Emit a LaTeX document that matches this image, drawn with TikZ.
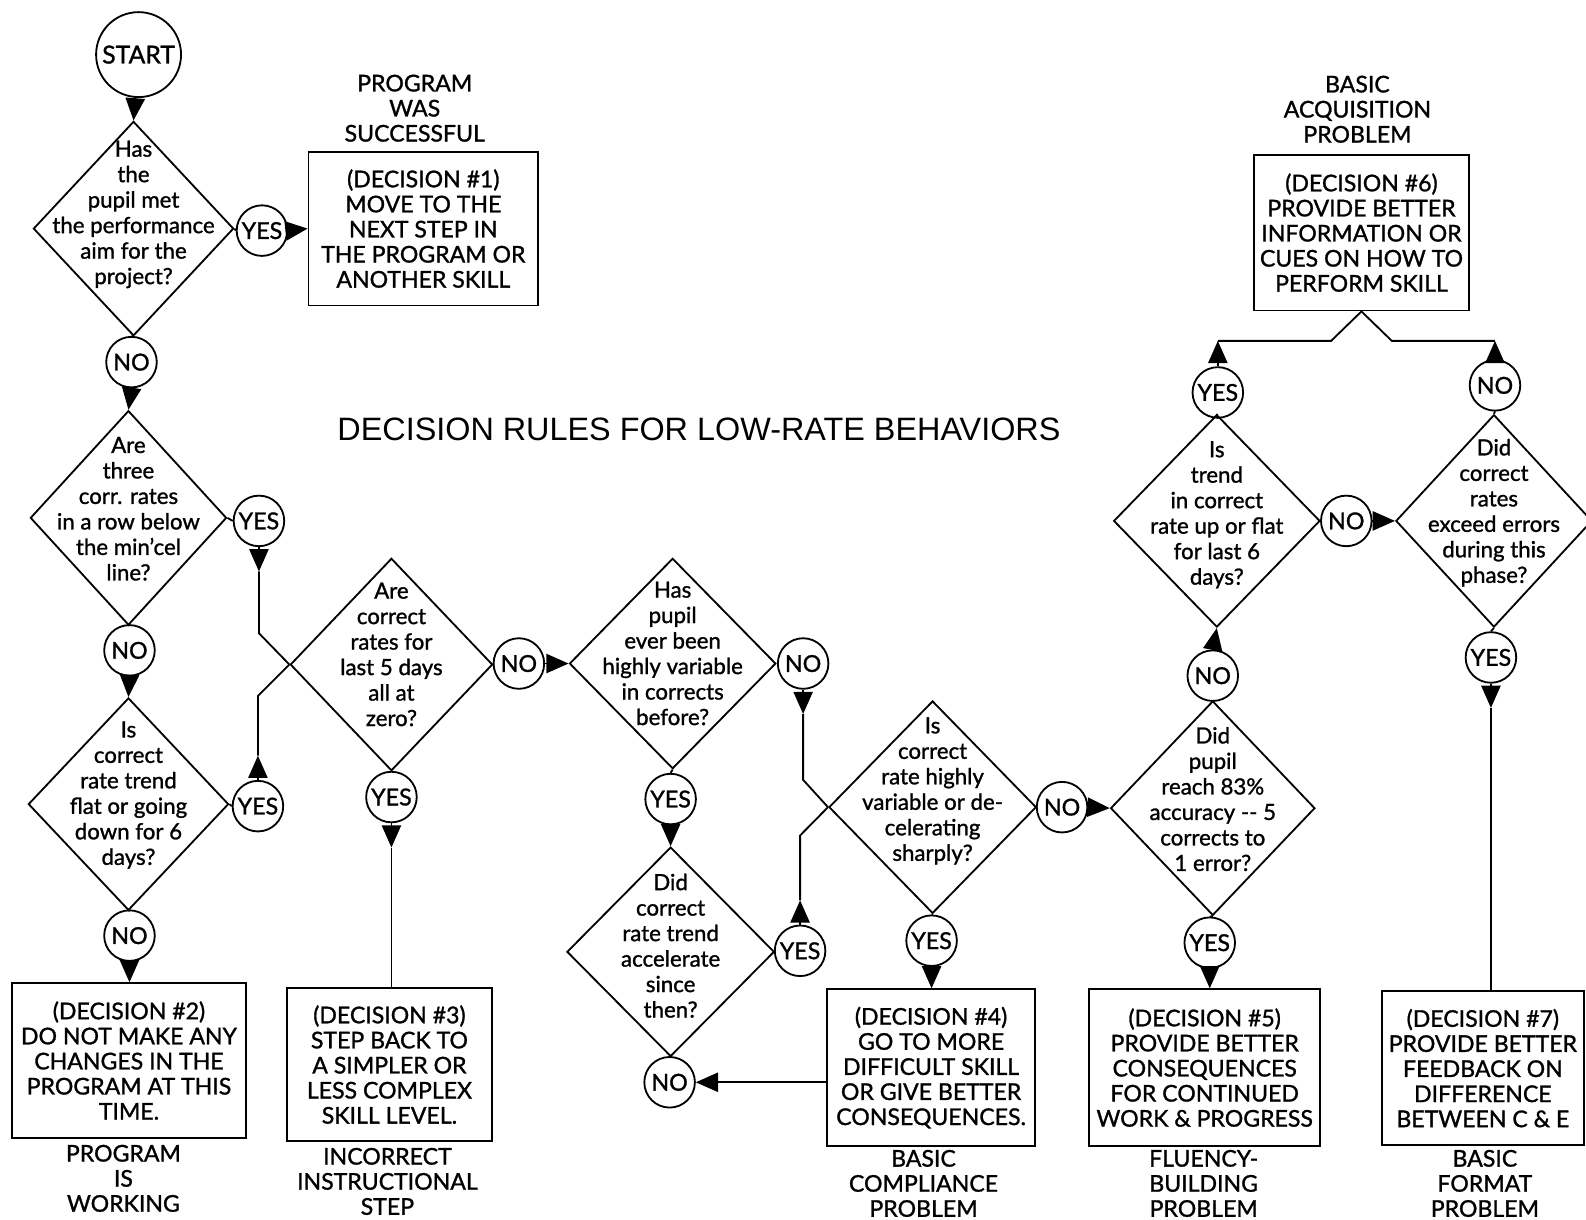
\documentclass[tikz,border=0pt]{standalone}
\usepackage{fontspec}
\setmainfont{Lato}[BoldFont={Lato},BoldFeatures={FakeBold=1.2}]
\newfontfamily\titlefnt{Liberation Sans}
\usetikzlibrary{shapes.geometric,arrows.meta}
\newcommand\boxfnt{\bfseries\fontsize{22.8}{24.8}\selectfont}
\newcommand\diafnt{\bfseries\fontsize{22}{25.2}\selectfont}
\newcommand\circfnt{\bfseries\fontsize{23}{23}\selectfont}
\begin{document}
\begin{tikzpicture}[x=1pt,y=-1pt,line width=1.8pt,
  arr/.style={-{Triangle[length=22pt,width=19pt]}},
  dia/.style 2 args={draw,diamond,inner sep=0pt,minimum width=#1pt,minimum height=#2pt},
  dtext/.style={align=center,font=\diafnt,inner sep=0pt},
  yn/.style={draw,circle,minimum size=50pt,inner sep=0pt,font=\circfnt},
  box/.style 2 args={draw,inner sep=0pt,minimum width=#1pt,minimum height=#2pt,align=center,font=\boxfnt},
  lab/.style={align=center,font=\boxfnt,inner sep=0pt}]
\useasboundingbox (0,0) rectangle (1568,1206);
\fill[white] (0,0) rectangle (1568,1206);

% title
\node[font=\titlefnt\fontsize{32}{36}\selectfont,inner sep=0pt] (title) at (691,424) {DECISION RULES FOR LOW-RATE BEHAVIORS};

% start and decision 1
\node[draw,circle,minimum size=84pt,inner sep=0pt,font=\bfseries\fontsize{24.5}{24.5}\selectfont] (start) at (137,54) {START};
\node[dia={198}{212}] (d1) at (132,226) {};
\node[dtext] (d1t) at (132,212) {Has\\the\\pupil met\\the performance\\aim for the\\project?};
\node[yn] (y1) at (259,228) {YES};
\node[box={227}{152}] (b1) at (418.5,226) {(DECISION \#1)\\MOVE TO THE\\NEXT STEP IN\\THE PROGRAM OR\\ANOTHER SKILL};
\node[lab] (l1) at (410,107) {PROGRAM\\WAS\\SUCCESSFUL};
\node[yn] (n1) at (130,358) {NO};

% decision 2
\node[dia={194}{212}] (d2) at (127,512) {};
\node[dtext] (d2t) at (127,503) {Are\\three\\corr. rates\\in a row below\\the min'cel\\line?};
\node[yn] (y2) at (256,515) {YES};
\node[yn] (n2) at (128,643) {NO};

% decision 4 (left column)
\node[dia={198}{210}] (d4) at (127,795) {};
\node[dtext] (d4t) at (127,786) {Is\\correct\\rate trend\\flat or going\\down for 6\\days?};
\node[yn] (y4) at (255,797) {YES};
\node[yn] (n4) at (128,925) {NO};
\node[box={231}{153}] (b2) at (127.5,1048.5) {(DECISION \#2)\\DO NOT MAKE ANY\\CHANGES IN THE\\PROGRAM AT THIS\\TIME.};
\node[lab] (l2) at (122,1165) {PROGRAM\\IS\\WORKING};

% decision 3
\node[dia={200}{210}] (d3) at (387,657) {};
\node[dtext] (d3t) at (387,647) {Are\\correct\\rates for\\last 5 days\\all at\\zero?};
\node[yn] (n3) at (513,656) {NO};
\node[yn] (y3) at (387,788) {YES};
\node[box={203}{151}] (b3) at (385,1052.5) {(DECISION \#3)\\STEP BACK TO\\A SIMPLER OR\\LESS COMPLEX\\SKILL LEVEL.};
\node[lab] (l3) at (383,1168) {INCORRECT\\INSTRUCTIONAL\\STEP};

% decision 5 and 6
\node[dia={204}{208}] (d5) at (665,656) {};
\node[dtext] (d5t) at (665,646) {Has\\pupil\\ever been\\highly variable\\in corrects\\before?};
\node[yn] (n5) at (794,656) {NO};
\node[yn] (y5) at (663,790) {YES};
\node[dia={205}{207}] (d6) at (663,941) {};
\node[dtext] (d6t) at (663,935) {Did\\correct\\rate trend\\accelerate\\since\\then?};
\node[yn] (y6) at (791,940) {YES};
\node[yn] (n6) at (662,1070) {NO};

% decision 7
\node[dia={205}{210}] (d7) at (922,798) {};
\node[dtext] (d7t) at (922,782) {Is\\correct\\rate highly\\variable or de-\\celerating\\sharply?};
\node[yn] (y7) at (921,930) {YES};
\node[box={205}{155}] (b4) at (920.5,1055.5) {(DECISION \#4)\\GO TO MORE\\DIFFICULT SKILL\\OR GIVE BETTER\\CONSEQUENCES.};
\node[lab] (l4) at (913,1170) {BASIC\\COMPLIANCE\\PROBLEM};
\node[yn] (n7) at (1050,798) {NO};

% decision 8
\node[dia={202}{212}] (d8) at (1199,799) {};
\node[dtext] (d8t) at (1199,790) {Did\\pupil\\reach 83\%\\accuracy -{}- 5\\corrects to\\1 error?};
\node[yn] (y8) at (1196,932) {YES};
\node[box={228}{155}] (b5) at (1191,1055.5) {(DECISION \#5)\\PROVIDE BETTER\\CONSEQUENCES\\FOR CONTINUED\\WORK \& PROGRESS};
\node[lab] (l5) at (1190,1170) {FLUENCY-\\BUILDING\\PROBLEM};
\node[yn] (n8) at (1199,668) {NO};

% decision 9 and 10
\node[dia={204}{210}] (d9) at (1203,515) {};
\node[dtext] (d9t) at (1203,509) {Is\\trend\\in correct\\rate up or flat\\for last 6\\days?};
\node[yn] (n9) at (1331,515) {NO};
\node[yn] (y9) at (1204,388) {YES};
\node[dia={194}{210}] (d10) at (1477,515) {};
\node[dtext] (d10t) at (1477,507) {Did\\correct\\rates\\exceed errors\\during this\\phase?};
\node[yn] (n10) at (1478,381) {NO};
\node[yn] (y10) at (1474,650) {YES};
\node[box={200}{152}] (b7) at (1466,1056) {(DECISION \#7)\\PROVIDE BETTER\\FEEDBACK ON\\DIFFERENCE\\BETWEEN C \& E};
\node[lab] (l7) at (1468,1170) {BASIC\\FORMAT\\PROBLEM};
\node[box={212}{154}] (b6) at (1346,230) {(DECISION \#6)\\PROVIDE BETTER\\INFORMATION OR\\CUES ON HOW TO\\PERFORM SKILL};
\node[lab] (l6) at (1342,108) {BASIC\\ACQUISITION\\PROBLEM};

% bend points
\coordinate (k2) at (256,626);
\coordinate (k4) at (255,688);
\coordinate (k5) at (794,771);
\coordinate (k6) at (791,826);
\coordinate (k9) at (1316,337);
\coordinate (k10) at (1376,337);

% connectors
\draw[arr] (start) -- (d1.north);
\draw (d1.east) -- (y1.west);
\draw[arr] (y1.east) -- (b1.west);
\draw (d1.south) -- (n1.north);
\draw[arr] (n1.south) -- (d2.north);
\draw (d2.east) -- (y2.west);
\draw[arr] (y2.south) -- ++(0,24) coordinate (y2a);
\draw (y2a) -- (k2) -- (d3.west);
\draw (d2.south) -- (n2.north);
\draw[arr] (n2.south) -- (d4.north);
\draw (d4.east) -- (y4.west);
\draw[arr] (y4.north) -- ++(0,-24) coordinate (y4a);
\draw (y4a) -- (k4) -- (d3.west);
\draw (d4.south) -- (n4.north);
\draw[arr] (n4.south) -- (n4.south |- b2.north);

\draw (d3.east) -- (n3.west);
\draw[arr] (n3.east) -- (d5.west);
\draw (d3.south) -- (y3.north);
\draw[arr] (y3.south) -- ++(0,24) coordinate (y3a);
\draw (y3a) -- (y3a |- b3.north);

\draw (d5.east) -- (n5.west);
\draw[arr] (n5.south) -- ++(0,24) coordinate (n5a);
\draw (n5a) -- (k5) -- (d7.west);
\draw (d5.south) -- (y5.north);
\draw[arr] (y5.south) -- (d6.north);
\draw (d6.east) -- (y6.west);
\draw[arr] (y6.north) -- ++(0,-24) coordinate (y6a);
\draw (y6a) -- (k6) -- (d7.west);
\draw (d6.south) -- (n6.north);
\draw[arr] (b4.west |- n6) -- (n6.east);

\draw (d7.south) -- (y7.north);
\draw[arr] (y7.south) -- (y7.south |- b4.north);
\draw (d7.east) -- (n7.west);
\draw[arr] (n7.east) -- (d8.west);

\draw (d8.south) -- (y8.north);
\draw[arr] (y8.south) -- (y8.south |- b5.north);
\draw (d8.north) -- (n8.south);
\draw[arr] (n8.north) -- (d9.south);

\draw (d9.east) -- (n9.west);
\draw[arr] (n9.east) -- (d10.west);
\draw (d9.north) -- (y9.south);
\draw[arr] (y9.north) -- (y9.north |- k9);
\draw (y9.north |- k9) -- (k9) -- (b6.south);
\draw (d10.north) -- (n10.south);
\draw[arr] (n10.north) -- (n10.north |- k10);
\draw (n10.north |- k10) -- (k10) -- (b6.south);
\draw (d10.south) -- (y10.north);
\draw[arr] (y10.south) -- ++(0,24) coordinate (y10a);
\draw (y10a) -- (y10a |- b7.north);
\end{tikzpicture}
\end{document}
